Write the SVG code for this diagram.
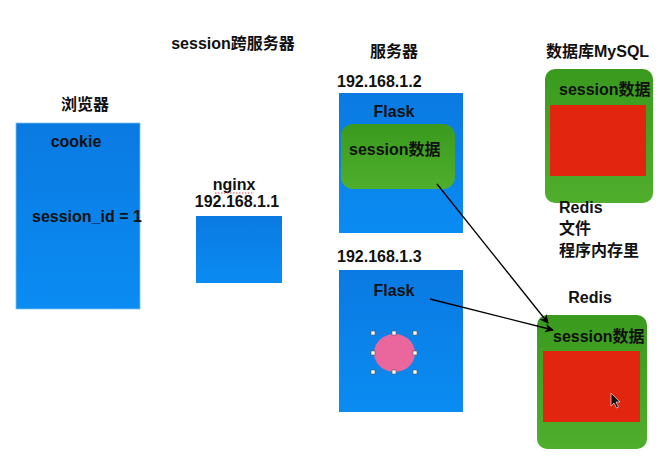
<svg xmlns="http://www.w3.org/2000/svg" width="663" height="460" viewBox="0 0 663 460">
<defs>
<linearGradient id="blueG" x1="0" y1="0" x2="0" y2="1">
<stop offset="0" stop-color="#0a7ae2"/>
<stop offset="1" stop-color="#0a8cf2"/>
</linearGradient>
<linearGradient id="greenG" x1="0" y1="0" x2="0" y2="1">
<stop offset="0" stop-color="#3a9a1e"/>
<stop offset="1" stop-color="#4fae2c"/>
</linearGradient>
<marker id="arr" viewBox="0 0 10 10" refX="9" refY="5" markerWidth="9" markerHeight="9" markerUnits="userSpaceOnUse" orient="auto">
<path d="M0,0 L10,5 L0,10 L3,5 Z" fill="#000"/>
</marker>
</defs>
<style>
text{font-family:"Liberation Sans","Noto Sans CJK SC",sans-serif;font-weight:bold;font-size:16px;fill:#111}
.blue{fill:url(#blueG)}
.green{fill:url(#greenG)}
.red{fill:#e2250f}
.handle{fill:#fff;stroke:#555;stroke-width:0.6}
.conn{stroke:#000;stroke-width:1.3;fill:none;marker-end:url(#arr)}
</style>
<rect width="663" height="460" fill="#fff"/>
<text x="233" y="49" text-anchor="middle">session跨服务器</text>
<g id="browser">
<text x="85" y="110" text-anchor="middle">浏览器</text>
<rect class="blue" x="16" y="123" width="124" height="186" stroke="#7cc0f0" stroke-width="0.8"/>
<text x="76" y="147" text-anchor="middle">cookie</text>
<text x="32" y="222" font-size="15.5">session_id = 1</text>
</g>
<g id="nginx">
<text x="234" y="190" text-anchor="middle">nginx</text>
<path d="M215,193 L254,193" stroke="#e05050" stroke-width="1" stroke-dasharray="1.5,1.5"/>
<text x="237" y="207" text-anchor="middle">192.168.1.1</text>
<rect class="blue" x="196" y="216" width="86" height="67"/>
</g>
<g id="server1">
<text x="394" y="57" text-anchor="middle">服务器</text>
<text x="337" y="87">192.168.1.2</text>
<rect class="blue" x="339" y="93" width="124" height="140"/>
<text x="394" y="117" text-anchor="middle">Flask</text>
<rect class="green" x="341" y="124" width="114" height="65" rx="12"/>
<text x="349" y="155">session数据</text>
</g>
<g id="server2">
<text x="337" y="262">192.168.1.3</text>
<rect class="blue" x="339" y="270" width="124" height="142"/>
<text x="394" y="296" text-anchor="middle">Flask</text>
<rect x="373" y="333" width="42" height="39" fill="none" stroke="#2a7fd6" stroke-width="0.6"/>
<ellipse cx="394.5" cy="353" rx="20.5" ry="19" fill="#e9679c"/>
<rect class="handle" x="371" y="331" width="4" height="4"/>
<rect class="handle" x="392" y="331" width="4" height="4"/>
<rect class="handle" x="413" y="331" width="4" height="4"/>
<rect class="handle" x="371" y="351" width="4" height="4"/>
<rect class="handle" x="413" y="351" width="4" height="4"/>
<rect class="handle" x="371" y="370" width="4" height="4"/>
<rect class="handle" x="392" y="370" width="4" height="4"/>
<rect class="handle" x="413" y="370" width="4" height="4"/>
</g>
<g id="mysql">
<text x="546" y="57">数据库MySQL</text>
<rect class="green" x="545" y="69" width="108" height="134" rx="10"/>
<text x="559" y="95">session数据</text>
<rect class="red" x="550" y="105" width="96" height="71"/>
<text x="559" y="213">Redis</text>
<text x="559" y="234">文件</text>
<text x="559" y="256">程序内存里</text>
</g>
<g id="redis">
<text x="590" y="303" text-anchor="middle">Redis</text>
<rect class="green" x="537" y="315" width="110" height="134" rx="10"/>
<text x="553" y="342">session数据</text>
<rect class="red" x="543" y="351" width="97" height="71"/>
<path d="M611,393 L611,406 L614,403 L616.5,408 L618.5,407 L616,402 L620,402 Z" fill="#111" stroke="#fff" stroke-width="0.6"/>
</g>
<g id="connectors">
<line class="conn" x1="437" y1="184" x2="548" y2="323"/>
<line class="conn" x1="430" y1="299" x2="553" y2="330"/>
</g>
</svg>
